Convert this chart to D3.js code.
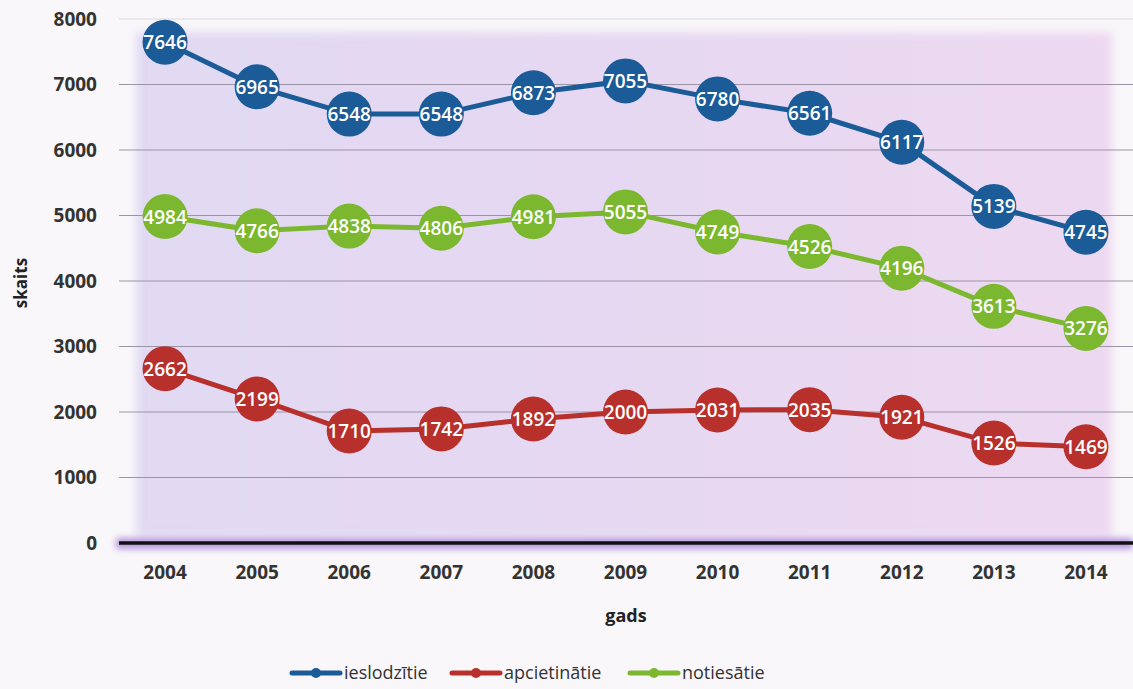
<!DOCTYPE html>
<html><head><meta charset="utf-8">
<script src="https://cdn.jsdelivr.net/npm/d3@7"></script>
<style>
html,body{margin:0;padding:0;background:#f9f7fa;}
svg{display:block;font-family:"Open Sans",sans-serif;}
</style></head>
<body><svg id="c" width="1133" height="689"></svg>
<script>
const years = ["2004","2005","2006","2007","2008","2009","2010","2011","2012","2013","2014"];
const ieslodzitie = [7646,6965,6548,6548,6873,7055,6780,6561,6117,5139,4745];
const apcietinatie = [2662,2199,1710,1742,1892,2000,2031,2035,1921,1526,1469];
const notiesatie = [4984,4766,4838,4806,4981,5055,4749,4526,4196,3613,3276];
const yTicks = [0,1000,2000,3000,4000,5000,6000,7000,8000];
const seriesNames = ["ieslodzītie","apcietinātie","notiesātie"];
const colors = ["#1b5b98","#b8302b","#7cb82f"];

const series = [ieslodzitie, apcietinatie, notiesatie].map((v,i)=>({name:seriesNames[i], values:v, color:colors[i]}));

const svg = d3.select("#c");
const x = d3.scaleBand().domain(years).range([119,1132]);
const y = d3.scaleLinear().domain([0,8000]).range([543,19]);

const defs = svg.append("defs");
const blur = defs.append("filter").attr("id","blur").attr("x","-10%").attr("y","-10%").attr("width","120%").attr("height","120%");
blur.append("feGaussianBlur").attr("stdDeviation",5);
const blur2 = defs.append("filter").attr("id","blur2").attr("x","-10%").attr("y","-200%").attr("width","120%").attr("height","500%");
blur2.append("feGaussianBlur").attr("stdDeviation",3);
const grad = defs.append("linearGradient").attr("id","bg").attr("x1","0").attr("x2","1").attr("y1","0").attr("y2","0");
grad.append("stop").attr("offset","0").attr("stop-color","#e1d9f3");
grad.append("stop").attr("offset","0.5").attr("stop-color","#e6d8f2");
grad.append("stop").attr("offset","1").attr("stop-color","#edd8f1");

// purple plot background
svg.append("rect").attr("x",136).attr("y",32).attr("width",976).attr("height",505)
  .attr("fill","url(#bg)").attr("filter","url(#blur)");

// gridlines
svg.append("g").selectAll("line").data(yTicks.filter(d=>d>0)).join("line")
  .attr("x1",119).attr("x2",1133).attr("y1",d=>y(d)).attr("y2",d=>y(d))
  .attr("stroke",d=>d===8000?"#dcd8e0":"#9c94a4").attr("stroke-width",1);

// axis glow + line
svg.append("rect").attr("x",116).attr("y",y(0)-5).attr("width",1017).attr("height",11)
  .attr("fill","#b596dc").attr("filter","url(#blur2)");
svg.append("line").attr("x1",119).attr("x2",1133).attr("y1",y(0)).attr("y2",y(0))
  .attr("stroke","#111").attr("stroke-width",3.5);

// y axis labels
const yAxis = d3.axisLeft(y).tickValues(yTicks).tickFormat(d3.format("d")).tickSize(0).tickPadding(0);
const yg = svg.append("g").attr("transform","translate(97,0)").call(yAxis);
yg.select(".domain").remove();
yg.selectAll("text").attr("font-family","'Open Sans',sans-serif").attr("font-size",19).attr("font-weight",700).attr("fill","#333");

// x axis labels
const xAxis = d3.axisBottom(x).tickSize(0).tickPadding(0);
const xg = svg.append("g").attr("transform","translate(0,565)").call(xAxis);
xg.select(".domain").remove();
xg.selectAll("text").attr("font-family","'Open Sans',sans-serif").attr("font-size",19).attr("font-weight",700).attr("fill","#333");

// axis titles
svg.append("text").attr("transform","translate(27,283) rotate(-90)").attr("text-anchor","middle")
  .attr("font-size",17).attr("font-weight",700).attr("fill","#222").text("skaits");
svg.append("text").attr("x",626).attr("y",622).attr("text-anchor","middle")
  .attr("font-size",18).attr("font-weight",700).attr("fill","#222").text("gads");

// lines & points
const line = d3.line().x((d,i)=>x(years[i])+x.bandwidth()/2).y(d=>y(d));
const sg = svg.append("g").selectAll("g").data(series).join("g");
sg.append("path").attr("d",d=>line(d.values)).attr("fill","none").attr("stroke",d=>d.color).attr("stroke-width",5);
sg.each(function(s){
  const g = d3.select(this);
  g.selectAll("circle").data(s.values).join("circle")
    .attr("cx",(d,i)=>x(years[i])+x.bandwidth()/2).attr("cy",d=>y(d)).attr("r",22.5).attr("fill",s.color);
  g.selectAll("text").data(s.values).join("text")
    .attr("x",(d,i)=>x(years[i])+x.bandwidth()/2).attr("y",d=>y(d)+7)
    .attr("text-anchor","middle").attr("font-size",19).attr("font-weight",600).attr("fill","#fff").text(d=>d);
});

// legend
const legendX = [292,452,630];
const lg = svg.append("g").selectAll("g").data(series).join("g")
  .attr("transform",(d,i)=>`translate(${legendX[i]},673)`);
lg.append("line").attr("x1",0).attr("x2",48).attr("y1",0).attr("y2",0).attr("stroke",d=>d.color).attr("stroke-width",5).attr("stroke-linecap","round");
lg.append("circle").attr("cx",24).attr("cy",0).attr("r",5).attr("fill",d=>d.color);
lg.append("text").attr("x",52).attr("y",6).attr("font-size",18).attr("fill","#333").text(d=>d.name);
</script></body></html>
